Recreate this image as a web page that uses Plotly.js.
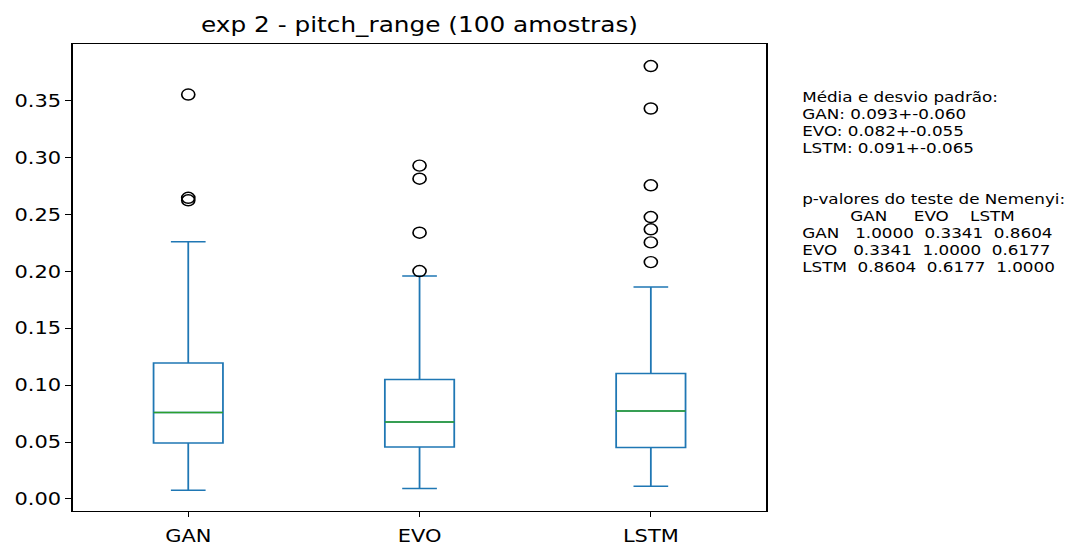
<!DOCTYPE html>
<html>
<head>
<meta charset="utf-8">
<script src="https://cdn.plot.ly/plotly-3.0.1.min.js"></script>
<style>
  html, body { margin: 0; padding: 0; background: #fff; overflow: hidden; }
  #chart { width: 899px; height: 546px; transform: scaleX(1.19021); transform-origin: 0 0; }
</style>
</head>
<body>
<div id="chart"></div>
<script>
// ---- data ----
const categories = ['GAN', 'EVO', 'LSTM'];
const q1 = [0.0492, 0.0457, 0.0452];
const medians = [0.0760, 0.0677, 0.0774];
const q3 = [0.1196, 0.1050, 0.1103];
const lowerWhisker = [0.0077, 0.0091, 0.0112];
const upperWhisker = [0.2260, 0.1959, 0.1864];
const outliersGAN = [0.3555, 0.2647, 0.2625];
const outliersEVO = [0.2930, 0.2815, 0.2340, 0.2003];
const outliersLSTM = [0.3805, 0.3432, 0.2757, 0.2478, 0.2370, 0.2255, 0.2082];
const means = [0.093, 0.082, 0.091];
const stds = [0.060, 0.055, 0.065];
const pvalues = [
  [1.0000, 0.3341, 0.8604],
  [0.3341, 1.0000, 0.6177],
  [0.8604, 0.6177, 1.0000]
];
const yTickVals = [0, 0.05, 0.10, 0.15, 0.20, 0.25, 0.30, 0.35];

// ---- build traces ----
const positions = categories.map((c, i) => i + 1);
const boxHalf = 0.15;

const boxTrace = {
  type: 'box',
  x: positions,
  q1: q1, median: medians, q3: q3,
  lowerfence: lowerWhisker, upperfence: upperWhisker,
  width: 2 * boxHalf,
  whiskerwidth: 0.5,
  boxpoints: false,
  line: { color: '#1f77b4', width: 1.5 },
  fillcolor: 'rgba(0,0,0,0)',
  hoverinfo: 'skip',
  showlegend: false
};

const medX = [], medY = [];
positions.forEach((p, i) => {
  medX.push(p - boxHalf, p + boxHalf, null);
  medY.push(medians[i], medians[i], null);
});
const medianTrace = {
  type: 'scatter', mode: 'lines', x: medX, y: medY,
  line: { color: '#2ca02c', width: 1.5 }, hoverinfo: 'skip', showlegend: false
};

const outlierGroups = [outliersGAN, outliersEVO, outliersLSTM];
const oX = [], oY = [];
outlierGroups.forEach((g, i) => g.forEach(v => { oX.push(positions[i]); oY.push(v); }));
const outlierTrace = {
  type: 'scatter', mode: 'markers', x: oX, y: oY,
  marker: { symbol: 'circle-open', size: 11, color: '#000', line: { width: 1.4, color: '#000' } },
  hoverinfo: 'skip', showlegend: false
};

// ---- side text ----
const nb = s => s.replace(/ /g, '\u00A0');
const idxW = Math.max(...categories.map(c => c.length));
const lines = ['Média e desvio padrão:'];
categories.forEach((c, i) => lines.push(c + ': ' + means[i].toFixed(3) + '+-' + stds[i].toFixed(3)));
lines.push('', '', 'p-valores do teste de Nemenyi:');
lines.push(''.padEnd(idxW) + categories.map(c => '  ' + c.padStart(6)).join(''));
categories.forEach((c, i) => lines.push(c.padEnd(idxW) + pvalues[i].map(v => '  ' + v.toFixed(4)).join('')));

const plotTop = 44, plotBottom = 511, plotH = plotBottom - plotTop;
const textLeftPx = 673.9, plotLeft = 61, plotW = 583;
const annotations = [];
lines.forEach((t, k) => {
  if (!t) return;
  const py = 96.7 + 17 * k;
  annotations.push({
    xref: 'paper', yref: 'paper',
    x: (textLeftPx - plotLeft) / plotW, y: (plotBottom - py) / plotH,
    xanchor: 'left', yanchor: 'middle', align: 'left',
    text: nb(t), showarrow: false, borderpad: 0, borderwidth: 0,
    font: { family: 'DejaVu Sans', size: 14.1, color: '#000' }
  });
});

const axisCommon = {
  showline: true, mirror: true, linecolor: '#000', linewidth: 1.1,
  ticks: 'outside', ticklen: 5, tickwidth: 1.1, tickcolor: '#000',
  showgrid: false, zeroline: false,
  tickfont: { family: 'DejaVu Sans', size: 17.6, color: '#000' }
};

const layout = {
  width: 899, height: 546,
  margin: { l: plotLeft, r: 899 - plotLeft - plotW, t: plotTop, b: 546 - plotBottom, pad: 0 },
  paper_bgcolor: '#fff', plot_bgcolor: '#fff',
  title: {
    text: 'exp 2 - pitch_range (100 amostras)',
    font: { family: 'DejaVu Sans', size: 20.8, color: '#000' },
    xref: 'paper', x: 0.5, xanchor: 'center',
    yref: 'container', y: 1 - 24.3 / 546, yanchor: 'middle'
  },
  xaxis: Object.assign({}, axisCommon, {
    range: [0.5, 3.5], tickmode: 'array', tickvals: positions, ticktext: categories,
    ticklabelstandoff: 4
  }),
  yaxis: Object.assign({}, axisCommon, {
    range: [-0.0106, 0.3999], tickmode: 'array', tickvals: yTickVals,
    ticktext: yTickVals.map(v => v.toFixed(2)),
    ticklabelstandoff: 2.5
  }),
  annotations: annotations,
  showlegend: false
};

Plotly.newPlot('chart', [boxTrace, medianTrace, outlierTrace], layout, { staticPlot: true, displayModeBar: false });
</script>
</body>
</html>
